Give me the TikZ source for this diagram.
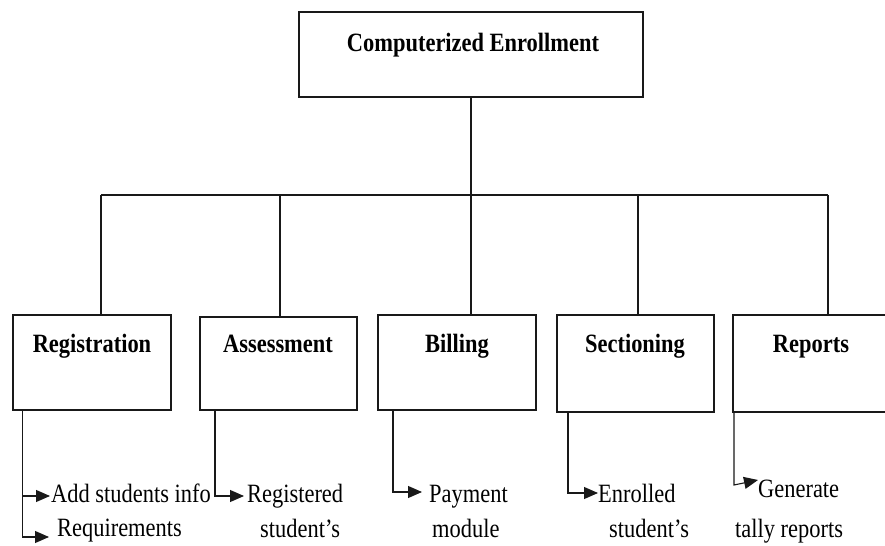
\documentclass[tikz,border=0pt]{standalone}
\usepackage{fontspec}
\setmainfont{Liberation Serif}[FakeStretch=0.85]
\usetikzlibrary{arrows.meta}
\begin{document}
\begin{tikzpicture}[x=1bp,y=-1bp,
  box/.style={draw=black!90, line width=1.1bp, rectangle, inner sep=0pt},
  ttl/.style={anchor=base, font=\fontsize{26.5}{30}\selectfont\bfseries, inner sep=0pt},
  txt/.style={anchor=base west, font=\fontsize{26.5}{30}\selectfont, inner sep=0pt},
  conn/.style={draw=black!90, line width=1.1bp},
  arr/.style={conn, -{Triangle[length=14bp,width=12bp]}}]
\useasboundingbox (0,0) rectangle (885,546);
% top box
\node[box, minimum width=344bp, minimum height=85bp] (top) at (471,54.5) {};
\node[ttl] (toptxt) at (473,52) {Computerized Enrollment};
% module boxes
\node[box, minimum width=158bp, minimum height=95bp] (reg) at (92,362.5) {};
\node[box, minimum width=157bp, minimum height=93bp] (ass) at (278.5,363.5) {};
\node[box, minimum width=158bp, minimum height=95bp] (bil) at (457,362.5) {};
\node[box, minimum width=157bp, minimum height=97bp] (sec) at (635.5,363.5) {};
\node[box, minimum width=156bp, minimum height=97bp] (rep) at (811,363.5) {};
\node[ttl] (regt) at (92,353) {Registration};
\node[ttl] (asst) at (278,353) {Assessment};
\node[ttl] (bilt) at (457,353) {Billing};
\node[ttl] (sect) at (635,353) {Sectioning};
\node[ttl] (rept) at (811,353) {Reports};
% bus
\coordinate (d1) at (101,195);
\coordinate (d2) at (280,195);
\coordinate (d3) at (471,195);
\coordinate (d4) at (638,195);
\coordinate (d5) at (828,195);
\draw[conn] (top.south) -- (d3);
\draw[conn] (d1) -- (d5);
\draw[conn] (d1) -- (d1 |- reg.north);
\draw[conn] (d2) -- (d2 |- ass.north);
\draw[conn] (d3) -- (d3 |- bil.north);
\draw[conn] (d4) -- (d4 |- sec.north);
\draw[conn] (d5) -- (d5 |- rep.north);
% lower branches
\coordinate (rs) at (22.7,410);
\coordinate (as) at (215,410);
\coordinate (bs) at (393,410);
\coordinate (ss) at (568,412);
\coordinate (ps) at (734,412);
\coordinate (a1) at (50,496);
\coordinate (a2) at (49,537);
\coordinate (a3) at (244,496);
\coordinate (a4) at (422,492);
\coordinate (a5) at (598,493);
\coordinate (a6c) at (734,485);
\coordinate (a6) at (758,480);
\draw[arr] (rs) |- (a1);
\draw[arr] (rs) |- (a2);
\draw[arr] (as) |- (a3);
\draw[arr] (bs) |- (a4);
\draw[arr] (ss) |- (a5);
\draw[arr] (ps) -- (a6c) -- (a6);
% texts
\node[txt] (t1) at (51,502.5) {Add students info};
\node[txt] (t2) at (57,536) {Requirements};
\node[txt] (t3) at (247,502) {Registered};
\node[txt] (t4) at (260,537) {student’s};
\node[txt] (t5) at (429,502) {Payment};
\node[txt] (t6) at (432,537) {module};
\node[txt] (t7) at (598,502) {Enrolled};
\node[txt] (t8) at (609,537) {student’s};
\node[txt] (t9) at (758,497) {Generate};
\node[txt] (t10) at (735,537) {tally reports};
\end{tikzpicture}
\end{document}
